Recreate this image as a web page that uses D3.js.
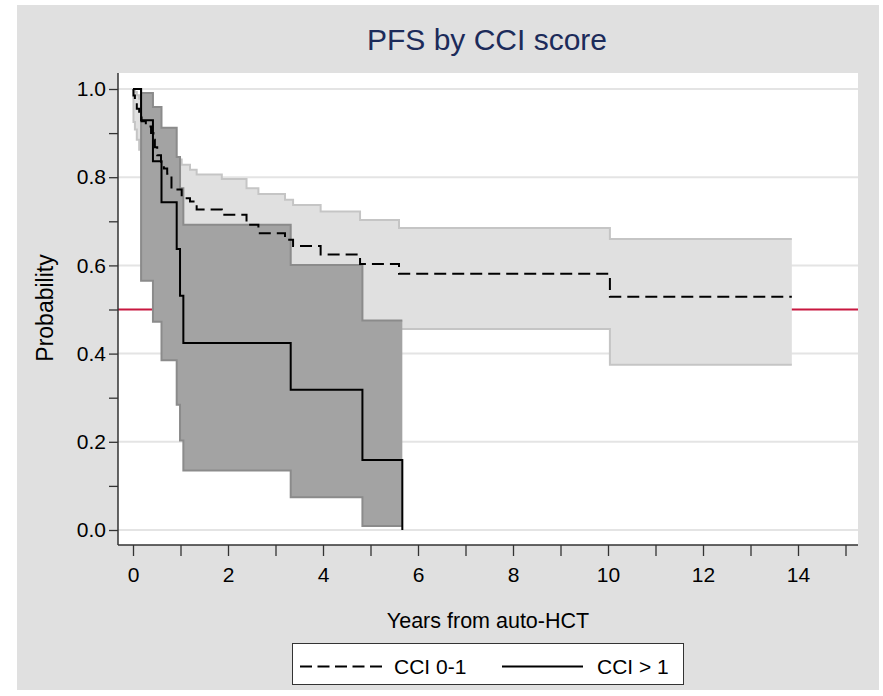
<!DOCTYPE html>
<html>
<head>
<meta charset="utf-8">
<title>PFS by CCI score</title>
<script src="https://cdn.jsdelivr.net/npm/d3@7"></script>
<style>
  html, body { margin: 0; padding: 0; background: #ffffff; }
  svg { display: block; font-family: "Liberation Sans", Arial, Helvetica, sans-serif; }
</style>
</head>
<body>
<svg id="chart" width="883" height="696"></svg>
<script>
// Kaplan-Meier estimates of progression-free survival, by comorbidity group.
const groups = ["CCI 0-1", "CCI > 1"];

// CCI 0-1: event times (years), survival, 95% CI lower / upper
const lowTime  = [0, 0.01, 0.04, 0.08, 0.13, 0.18, 0.27, 0.38, 0.43, 0.46, 0.51, 0.59, 0.65, 0.72, 0.81, 1.025, 1.20, 1.34, 1.87, 2.39, 2.64, 3.20, 3.37, 3.95, 4.78, 5.60, 10.04];
const lowSurv  = [1, 0.985, 0.970, 0.955, 0.940, 0.927, 0.915, 0.900, 0.885, 0.868, 0.850, 0.835, 0.820, 0.808, 0.772, 0.752, 0.745, 0.727, 0.715, 0.692, 0.673, 0.658, 0.644, 0.625, 0.603, 0.581, 0.529];
const lowLower = [1, 0.925, 0.908, 0.885, 0.862, 0.845, 0.830, 0.812, 0.795, 0.776, 0.757, 0.740, 0.724, 0.711, 0.672, 0.650, 0.642, 0.624, 0.610, 0.585, 0.565, 0.548, 0.533, 0.513, 0.470, 0.456, 0.375];
const lowUpper = [1, 0.998, 0.993, 0.986, 0.978, 0.970, 0.962, 0.953, 0.944, 0.933, 0.921, 0.905, 0.895, 0.887, 0.840, 0.828, 0.817, 0.806, 0.796, 0.775, 0.762, 0.749, 0.737, 0.722, 0.703, 0.685, 0.660];
const lowLastFollowUp = 13.87;

// CCI > 1: event times (years), survival, 95% CI lower / upper (undefined once S = 0)
const highTime  = [0, 0.17, 0.42, 0.60, 0.92, 0.99, 1.06, 3.32, 4.83, 5.67];
const highSurv  = [1, 0.929, 0.836, 0.743, 0.637, 0.531, 0.424, 0.318, 0.159, 0];
const highLower = [1, 0.565, 0.472, 0.385, 0.284, 0.203, 0.135, 0.0745, 0.009, null];
const highUpper = [1, 0.991, 0.959, 0.912, 0.846, 0.775, 0.692, 0.601, 0.475, null];

const xTicks = d3.range(0, 16, 1);
const yTicks = d3.range(0, 1.0001, 0.1).map(v => +v.toFixed(1));
const yGrid = [0, 0.2, 0.4, 0.6, 0.8, 1.0];
const medianLine = 0.5;

const svg = d3.select("#chart");
const FONT = "'Liberation Sans', Arial, Helvetica, sans-serif";

// outer graph region and white plot region
const plot = { left: 118, right: 858, top: 73, bottom: 545 };
svg.append("rect").attr("x", 17).attr("y", 5).attr("width", 862).attr("height", 685).attr("fill", "#e0e0e0");
svg.append("rect").attr("x", plot.left).attr("y", plot.top)
  .attr("width", plot.right - plot.left).attr("height", plot.bottom - plot.top).attr("fill", "#ffffff");

const x = d3.scaleLinear().domain([0, 14]).range([133, 798]);
const y = d3.scaleLinear().domain([0, 1]).range([530, 89]);

// grid lines
svg.append("g").selectAll("line").data(yGrid).join("line")
  .attr("x1", plot.left).attr("x2", plot.right)
  .attr("y1", d => y(d)).attr("y2", d => y(d))
  .attr("stroke", "#e4e4e4").attr("stroke-width", 2);

// reference line at 50%
svg.append("line")
  .attr("x1", plot.left).attr("x2", plot.right)
  .attr("y1", y(medianLine)).attr("y2", y(medianLine))
  .attr("stroke", "#c8173f").attr("stroke-width", 2);

// build step-function point lists
function curvePoints(times, surv, endTime) {
  const pts = times.map((t, i) => [t, surv[i]]);
  if (endTime !== undefined) pts.push([endTime, surv[surv.length - 1]]);
  return pts;
}
function bandPoints(times, lo, hi, endTime) {
  const pts = [];
  times.forEach((t, i) => { if (lo[i] !== null) pts.push({ t, lo: lo[i], hi: hi[i] }); });
  const last = pts[pts.length - 1];
  const stop = endTime !== undefined ? endTime : times[times.length - 1];
  pts.push({ t: stop, lo: last.lo, hi: last.hi });
  return pts;
}

const area = d3.area().curve(d3.curveStepAfter)
  .x(d => x(d.t)).y0(d => y(d.lo)).y1(d => y(d.hi));
const edgeLo = d3.line().curve(d3.curveStepAfter).x(d => x(d.t)).y(d => y(d.lo));
const edgeHi = d3.line().curve(d3.curveStepAfter).x(d => x(d.t)).y(d => y(d.hi));
const step = d3.line().curve(d3.curveStepAfter).x(d => x(d[0])).y(d => y(d[1]));

function drawBand(pts, fill, edge) {
  const g = svg.append("g");
  g.append("path").attr("d", area(pts)).attr("fill", fill);
  g.append("path").attr("d", edgeLo(pts)).attr("fill", "none").attr("stroke", edge).attr("stroke-width", 2);
  g.append("path").attr("d", edgeHi(pts)).attr("fill", "none").attr("stroke", edge).attr("stroke-width", 2);
}

drawBand(bandPoints(lowTime, lowLower, lowUpper, lowLastFollowUp), "#e0e0e0", "#c5c5c5");
drawBand(bandPoints(highTime, highLower, highUpper), "#a3a3a3", "#8b8b8b");

// survival curves
svg.append("path").attr("d", step(curvePoints(lowTime, lowSurv, lowLastFollowUp)))
  .attr("fill", "none").attr("stroke", "#000").attr("stroke-width", 2)
  .attr("stroke-dasharray", "12,6");
svg.append("path").attr("d", step(curvePoints(highTime, highSurv)))
  .attr("fill", "none").attr("stroke", "#000").attr("stroke-width", 2);

// axes
const yAxis = d3.axisLeft(y).tickValues(yTicks).tickSize(9).tickPadding(3)
  .tickFormat(d => (Math.round(d * 10) % 2 === 0) ? d3.format(".1f")(d) : "");
const gy = svg.append("g").attr("transform", `translate(${plot.left},0)`).call(yAxis);
gy.select(".domain").remove();
gy.append("line").attr("x1", 0).attr("x2", 0).attr("y1", plot.top).attr("y2", plot.bottom)
  .attr("stroke", "#333").attr("stroke-width", 1.5);

const xAxis = d3.axisBottom(x).tickValues(xTicks).tickSize(11).tickPadding(11)
  .tickFormat(d => d % 2 === 0 ? d : "");
const gx = svg.append("g").attr("transform", `translate(0,${plot.bottom})`).call(xAxis);
gx.select(".domain").remove();
gx.append("line").attr("x1", plot.left).attr("x2", plot.right).attr("y1", 0).attr("y2", 0)
  .attr("stroke", "#333").attr("stroke-width", 1.5);

[gx, gy].forEach(g => {
  g.selectAll(".tick line").attr("stroke", "#333").attr("stroke-width", 1.3);
  g.selectAll(".tick text").attr("font-family", FONT).attr("font-size", 21).attr("fill", "#000");
});

// titles
svg.append("text").attr("x", 487).attr("y", 50).attr("text-anchor", "middle")
  .attr("font-family", FONT).attr("font-size", 30).attr("fill", "#1c2b5a")
  .text("PFS by CCI score");
svg.append("text").attr("x", 488).attr("y", 628).attr("text-anchor", "middle")
  .attr("font-family", FONT).attr("font-size", 21.5).attr("fill", "#000")
  .text("Years from auto-HCT");
svg.append("text").attr("transform", "translate(53,308) rotate(-90)").attr("text-anchor", "middle")
  .attr("font-family", FONT).attr("font-size", 23).attr("fill", "#000")
  .text("Probability");

// legend
const legend = svg.append("g");
legend.append("rect").attr("x", 292.5).attr("y", 643.5).attr("width", 391).attr("height", 41)
  .attr("fill", "#ffffff").attr("stroke", "#333").attr("stroke-width", 1);
const legendItems = [
  { label: groups[0], x1: 300, x2: 383, tx: 394, dash: "12,5.5" },
  { label: groups[1], x1: 502, x2: 583, tx: 597, dash: null }
];
legendItems.forEach(it => {
  legend.append("line").attr("x1", it.x1).attr("x2", it.x2).attr("y1", 666.5).attr("y2", 666.5)
    .attr("stroke", "#000").attr("stroke-width", 2)
    .attr("stroke-dasharray", it.dash);
  legend.append("text").attr("x", it.tx).attr("y", 674)
    .attr("font-family", FONT).attr("font-size", 21).attr("fill", "#000")
    .text(it.label);
});
</script>
</body>
</html>
